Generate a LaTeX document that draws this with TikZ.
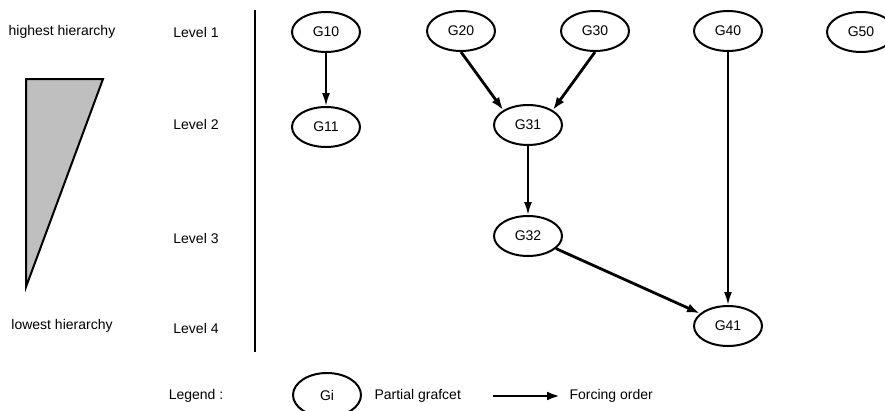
\documentclass[tikz,border=0pt]{standalone}
\usepackage{fontspec}
\setmainfont{Liberation Sans}
\usetikzlibrary{shapes.geometric,arrows.meta}
\begin{document}
\begin{tikzpicture}[x=1pt,y=-1pt,font=\fontsize{14}{16}\selectfont,
  grafcet/.style={ellipse,draw,line width=2pt,minimum width=68pt,minimum height=40pt,inner sep=0pt},
  force/.style={line width=2pt,-{Latex[length=13pt,width=8pt]}},
  forcethick/.style={line width=2.8pt,-{Latex[length=13pt,width=9pt]}}]
  \useasboundingbox (0,0) rectangle (885,410);
%hierarquia
  \node (high) at (62,32) {highest hierarchy};
  \node (low) at (62,326) {lowest hierarchy};
  \filldraw[fill=gray!50,line width=2pt] (26,79) -- (103,79) -- (26,287) -- cycle;
%niveis
  \node (lv1) at (196,32) {Level 1};
  \node (lv2) at (196,124) {Level 2};
  \node (lv3) at (196,238) {Level 3};
  \node (lv4) at (196,328) {Level 4};
  \coordinate (sepTop) at (255,10);
  \coordinate (sepBot) at (255,352);
  \draw[line width=2pt] (sepTop) -- (sepBot);
%grafcets parciais
  \node[grafcet] (G10) at (326,32) {G10};
  \node[grafcet] (G20) at (461,31) {G20};
  \node[grafcet] (G30) at (595,31) {G30};
  \node[grafcet] (G40) at (728,31) {G40};
  \node[grafcet] (G50) at (861,32) {G50};
  \node[grafcet] (G11) at (326,127) {G11};
  \node[grafcet] (G31) at (528,125) {G31};
  \node[grafcet] (G32) at (528,236) {G32};
  \node[grafcet] (G41) at (728,326) {G41};
%ordens de forcagem
  \draw[force] (G10) -- (G11);
  \draw[forcethick] (G20.south) -- (G31.north west);
  \draw[forcethick] (G30.south) -- (G31.north east);
  \draw[force] (G31) -- (G32);
  \draw[forcethick] (G32) -- (G41);
  \draw[force] (G40) -- (G41);
%legenda
  \node (leg) at (196,396) {Legend :};
  \node[grafcet,minimum height=44pt] (Gi) at (327,395) {Gi};
  \node[right] (legG) at (371,396) {Partial grafcet};
  \coordinate (arrA) at (493,396);
  \coordinate (arrB) at (560,396);
  \draw[forcethick] (arrA) -- (arrB);
  \node[right] (legF) at (566,396) {Forcing order};
\end{tikzpicture}
\end{document}
